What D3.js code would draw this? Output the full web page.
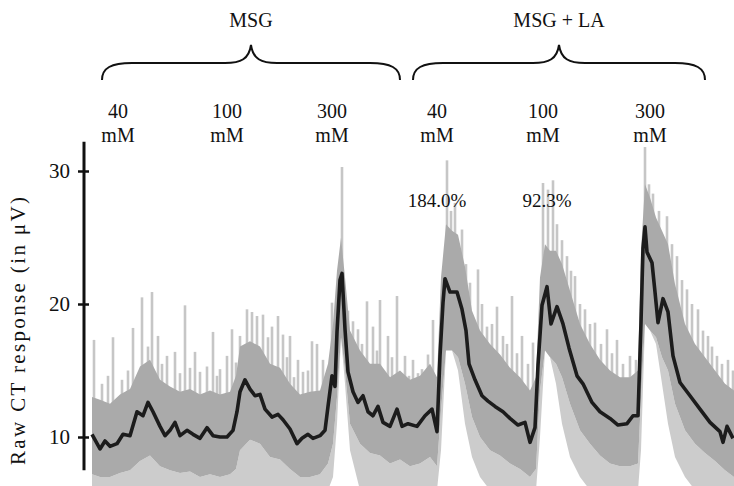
<!DOCTYPE html>
<html>
<head>
<meta charset="utf-8">
<script src="https://cdn.jsdelivr.net/npm/d3@7"></script>
<style>
  html, body { margin: 0; padding: 0; background: #fff; }
  svg { display: block; font-family: "Liberation Serif", "Times New Roman", serif; }
</style>
</head>
<body>
<svg id="chart" width="734" height="486"></svg>
<script>
// Chorda tympani (CT) nerve recording: MSG alone, then MSG + LA.
// Time is in seconds from the start of the trace; responses in microvolts.

// Stimulus groups and the concentrations applied within each
const groupNames = ["MSG", "MSG + LA"];
const groupStart = [5, 160.5];
const groupEnd = [154, 306.5];
const concLabels = ["40", "100", "300", "40", "100", "300"];
const concTime = [13, 67.5, 120, 172.5, 225.5, 279];
const percentLabels = ["184.0%", "92.3%"];
const percentTime = [172.5, 227.5];

// Y axis ticks
const yTicks = [10, 20, 30];

// Integrated (smoothed) response
const smoothTime = [0, 4, 6.5, 9, 12.5, 15.5, 19, 22.5, 25.5, 28, 30.5, 34, 36.5, 39, 41.5, 44, 47.5, 50.5, 54, 57.5,
  60.5, 64, 67.5, 70.5, 72.5, 74, 76.5, 79, 81.5, 84, 86.5, 90, 93, 95.5, 99, 102.5, 105, 108, 110.5, 114,
  116.5, 118, 120, 121.5, 122.5, 124, 125, 126.5, 128, 130.5, 133, 135.5, 138, 140.5, 143, 145.5, 149, 152.5, 155, 158,
  162.5, 166.5, 170, 172.5, 174, 175.5, 176.5, 179, 182.5, 185, 187, 188.5, 191.5, 195, 198, 201.5, 205.5, 209, 213, 216.5,
  219, 221.5, 223, 225, 227.5, 229.5, 232.5, 235.5, 238.5, 242.5, 245.5, 250, 254, 259, 263, 267.5, 270.5, 273, 274.5, 275.5,
  276.5, 277.5, 280, 281.5, 283, 285.5, 288, 290.5, 294, 299, 304, 309, 314, 315.5, 317.5, 320.5];
const smoothValue = [10.2, 9.1, 9.7, 9.3, 9.5, 10.2, 10.1, 11.9, 11.6, 12.6, 11.9, 10.8, 10.1, 10.5, 11.1, 10.1, 10.5, 10.2, 9.9, 10.7,
  10.1, 10.0, 10.0, 10.5, 11.9, 13.4, 14.3, 13.6, 13.1, 13.2, 12.1, 11.5, 11.7, 11.3, 10.6, 9.5, 9.9, 10.2, 9.9, 10.1,
  10.5, 12.3, 14.6, 13.8, 17.9, 21.8, 22.3, 18.1, 14.9, 13.4, 12.6, 13.1, 11.9, 11.6, 12.3, 11.1, 10.8, 12.1, 10.8, 11.0,
  10.8, 11.6, 12.1, 10.4, 16.1, 20.1, 21.9, 20.9, 20.9, 19.6, 18.0, 15.5, 14.3, 13.1, 12.7, 12.3, 11.9, 11.4, 10.9, 11.1,
  9.6, 10.7, 15.4, 19.9, 21.3, 18.5, 19.8, 18.5, 16.7, 14.6, 14.0, 12.6, 11.9, 11.4, 10.9, 11.0, 11.6, 11.6, 18.6, 24.2,
  25.8, 23.9, 23.1, 20.9, 18.6, 20.4, 19.4, 16.1, 14.1, 13.1, 12.1, 11.1, 10.4, 9.6, 10.8, 9.9];

// Raw trace: dense core band and the lower extent of its excursions
const envTime = [0, 4, 9, 14, 19, 24, 29, 34, 39, 44, 49, 54, 59, 64, 69, 72, 74, 79, 84, 89,
  94, 99, 104, 109, 114, 118, 120.5, 122.5, 124.5, 126.5, 129, 134, 139, 144, 149, 154, 159, 164, 169, 172.5,
  174.5, 177, 180, 183, 186.5, 190, 194, 199, 204, 209, 214, 219, 222, 224, 226.5, 229, 232, 235, 239, 244,
  249, 254, 259, 264, 269, 273, 274.5, 276.5, 279, 282, 285, 288, 291.5, 296.5, 301.5, 306.5, 311.5, 316.5, 321];
const bandUpper = [13.0, 12.8, 12.5, 13.2, 13.6, 15.3, 15.8, 14.3, 13.8, 13.4, 13.6, 13.2, 13.5, 13.2, 13.4, 14.6, 16.8, 17.2, 16.8, 15.5,
  15.2, 14.0, 13.2, 13.4, 13.5, 15.5, 18.5, 22.5, 25.0, 22.0, 18.0, 16.5, 15.5, 15.5, 14.5, 15.0, 14.3, 14.6, 15.5, 14.5,
  22.0, 26.0, 25.5, 25.2, 22.8, 19.5, 18.0, 17.0, 16.2, 15.2, 14.5, 13.5, 14.5, 22.0, 24.5, 24.0, 24.0, 23.0, 21.0, 18.5,
  17.0, 15.8, 15.0, 14.5, 14.5, 15.0, 24.0, 29.0, 28.0, 26.5, 25.5, 24.5, 21.5, 18.5, 17.0, 16.0, 15.0, 14.0, 13.5];
const bandLower = [7.2, 7.0, 7.0, 7.3, 7.5, 8.2, 8.6, 7.8, 7.5, 7.3, 7.4, 7.0, 7.2, 7.0, 7.2, 7.6, 9.0, 9.8, 9.5, 8.5,
  8.3, 7.6, 7.0, 7.0, 7.2, 8.0, 9.5, 13.0, 17.5, 15.0, 11.0, 9.5, 8.8, 8.6, 8.0, 8.3, 7.8, 8.0, 8.5, 7.8,
  12.0, 16.5, 16.5, 16.0, 14.0, 11.5, 10.0, 9.0, 8.6, 8.0, 7.6, 7.0, 7.6, 13.5, 16.5, 16.0, 15.5, 14.5, 12.5, 10.5,
  9.5, 8.6, 8.0, 7.8, 7.8, 8.0, 13.0, 18.5, 18.0, 17.5, 16.0, 15.0, 12.5, 10.5, 9.5, 8.8, 8.2, 7.5, 7.0];
const rawLow = [6.0, 6.0, 6.0, 6.0, 6.0, 6.0, 6.0, 6.0, 6.0, 6.0, 6.0, 6.0, 6.0, 6.0, 6.0, 6.0, 6.0, 6.0, 6.0, 6.0,
  6.0, 6.0, 6.0, 6.0, 6.0, 6.0, 7.0, 11.0, 17.5, 14.0, 9.0, 6.0, 6.0, 6.0, 6.0, 6.0, 6.0, 6.0, 6.0, 6.0,
  9.0, 16.5, 16.5, 15.0, 11.0, 8.5, 7.0, 6.0, 6.0, 6.0, 6.0, 6.0, 6.0, 10.0, 16.5, 16.0, 14.0, 11.0, 8.5, 7.0,
  6.0, 6.0, 6.0, 6.0, 6.0, 6.0, 9.0, 18.5, 18.0, 17.0, 14.0, 11.0, 8.5, 7.0, 6.0, 6.0, 6.0, 6.0, 6.0];

// Upward excursions of the raw trace (peak value of each spike)
const spikeTime = [1, 5, 8, 10.5, 15, 18, 20.5, 25, 28, 30, 33, 35, 37.5, 41.5, 44, 46.5, 49, 51.5, 54, 57.5,
  60.5, 62.5, 64, 67.5, 70, 72, 74, 77.5, 80, 82.5, 85.5, 88, 90, 93, 95.5, 97.5, 99, 101, 103, 105.5,
  108, 110, 112.5, 115.5, 120, 125, 128, 130.5, 133, 135, 137.5, 140.5, 142.5, 144, 148, 150, 152.5, 156.5, 158.5, 160.5,
  163, 165, 168, 170.5, 177.5, 179.5, 181.5, 185, 187, 189, 193, 195, 197.5, 200, 202.5, 205.5, 207.5, 210, 212.5, 215,
  218, 220.5, 225.5, 228, 230.5, 232.5, 235, 237.5, 239.5, 241.5, 244, 246.5, 249, 251.5, 254.5, 257.5, 260, 262.5, 265.5, 269,
  272, 276.5, 278.5, 280.5, 283.5, 287.5, 290, 292.5, 295, 297.5, 300, 303, 305.5, 308, 310, 312.5, 315, 318, 320.5];
const spikeTop = [17.3, 14.0, 14.6, 17.5, 14.3, 15.0, 18.2, 20.5, 16.8, 20.9, 17.6, 15.5, 16.1, 16.4, 14.8, 19.9, 15.2, 16.4, 14.9, 15.3,
  17.9, 14.6, 15.1, 16.1, 18.1, 15.6, 17.6, 19.6, 19.4, 19.1, 19.2, 17.5, 18.3, 19.1, 17.7, 16.0, 17.6, 14.5, 15.8, 14.9,
  15.0, 17.2, 17.0, 15.8, 20.1, 30.3, 19.5, 18.7, 18.1, 17.0, 20.2, 18.3, 16.5, 20.3, 17.6, 16.0, 20.6, 16.1, 14.6, 15.8,
  14.8, 15.1, 16.2, 18.8, 30.8, 27.0, 27.6, 25.6, 23.0, 21.6, 22.6, 20.0, 18.3, 18.5, 19.8, 17.6, 17.0, 20.6, 16.3, 17.6,
  15.5, 17.1, 29.1, 28.6, 29.3, 26.0, 24.8, 23.6, 22.5, 22.1, 20.0, 19.6, 18.5, 18.6, 17.0, 18.1, 16.3, 17.3, 15.5, 16.1,
  15.8, 31.8, 29.0, 28.3, 27.0, 26.6, 24.5, 23.6, 21.8, 21.1, 20.0, 19.6, 18.0, 17.6, 16.8, 16.1, 15.5, 15.8, 15.0];

const svg = d3.select("#chart");
const W = 734, H = 486;

const x = d3.scaleLinear().domain([0, 321]).range([92, 734]);
const y = d3.scaleLinear().domain([10, 30]).range([437, 171]);

// Clip the traces to the plotting area
svg.append("defs").append("clipPath").attr("id", "plotClip")
  .append("rect").attr("x", 86).attr("y", 0).attr("width", W - 86).attr("height", H);

const plot = svg.append("g").attr("clip-path", "url(#plotClip)");

const env = envTime.map((t, i) => ({ t, hi: bandUpper[i], lo: bandLower[i], low: rawLow[i] }));

// Lower extent of the raw excursions
plot.append("path")
  .datum(env)
  .attr("fill", "#cccccc")
  .attr("d", d3.area().x(d => x(d.t)).y0(d => y(d.low)).y1(d => y(d.lo)));

// Band centre, used as the foot of each spike
const bisect = d3.bisector(d => d.t).left;
function bandMid(t) {
  const i = Math.max(1, Math.min(env.length - 1, bisect(env, t)));
  const a = env[i - 1], b = env[i];
  const f = (t - a.t) / (b.t - a.t);
  const mA = (a.hi + a.lo) / 2, mB = (b.hi + b.lo) / 2;
  return mA + (mB - mA) * f;
}

// Raw spikes
plot.append("g").selectAll("line")
  .data(spikeTime.map((t, i) => ({ t, top: spikeTop[i] })))
  .join("line")
  .attr("x1", d => x(d.t)).attr("x2", d => x(d.t))
  .attr("y1", d => y(d.top)).attr("y2", d => y(bandMid(d.t)))
  .attr("stroke", "#c6c6c6")
  .attr("stroke-width", 2.6);

// Dense core of the raw trace
plot.append("path")
  .datum(env)
  .attr("fill", "#aaaaaa")
  .attr("d", d3.area().x(d => x(d.t)).y0(d => y(d.lo)).y1(d => y(d.hi)));

// Smoothed response
plot.append("path")
  .datum(smoothTime.map((t, i) => ({ t, v: smoothValue[i] })))
  .attr("fill", "none")
  .attr("stroke", "#1c1c1c")
  .attr("stroke-width", 3.6)
  .attr("stroke-linejoin", "round")
  .attr("d", d3.line().x(d => x(d.t)).y(d => y(d.v)));

// Y axis
const axisG = svg.append("g")
  .attr("transform", "translate(84,0)")
  .call(d3.axisLeft(y).tickValues(yTicks).tickSizeInner(6).tickSizeOuter(0).tickPadding(8));
axisG.select(".domain").remove();
axisG.append("line")
  .attr("x1", 0).attr("x2", 0)
  .attr("y1", y(32.2)).attr("y2", y(7.5))
  .attr("stroke", "#111").attr("stroke-width", 3);
axisG.selectAll(".tick line")
  .attr("x1", 5).attr("x2", -6)
  .attr("stroke", "#111").attr("stroke-width", 2.5);
axisG.selectAll(".tick text")
  .attr("font-family", "Liberation Serif, serif")
  .attr("font-size", 21)
  .attr("fill", "#111");

svg.append("text")
  .attr("transform", "translate(25,331) rotate(-90)")
  .attr("text-anchor", "middle")
  .attr("font-size", 21)
  .attr("fill", "#111")
  .attr("textLength", 268)
  .attr("lengthAdjust", "spacing")
  .text("Raw CT response (in \u03BCV)");

// Group braces and names
function bracePath(x0, x1, yEnd, yBar, yTip) {
  const xm = (x0 + x1) / 2;
  return `M${x0},${yEnd} C${x0},${yBar + 5} ${x0 + 9},${yBar} ${x0 + 30},${yBar}` +
    ` L${xm - 26},${yBar} C${xm - 10},${yBar} ${xm - 2},${yBar - 4} ${xm},${yTip}` +
    ` C${xm + 2},${yBar - 4} ${xm + 10},${yBar} ${xm + 26},${yBar}` +
    ` L${x1 - 30},${yBar} C${x1 - 9},${yBar} ${x1},${yBar + 5} ${x1},${yEnd}`;
}

groupNames.forEach((name, i) => {
  const x0 = x(groupStart[i]), x1 = x(groupEnd[i]);
  svg.append("path")
    .attr("d", bracePath(x0, x1, 80, 63, 45))
    .attr("fill", "none")
    .attr("stroke", "#111")
    .attr("stroke-width", 2);
  svg.append("text")
    .attr("x", (x0 + x1) / 2).attr("y", 27)
    .attr("text-anchor", "middle")
    .attr("font-size", 20)
    .attr("fill", "#111")
    .text(name);
});

// Concentration labels
concLabels.forEach((c, i) => {
  const g = svg.append("text")
    .attr("text-anchor", "middle")
    .attr("font-size", 20)
    .attr("fill", "#111");
  g.append("tspan").attr("x", x(concTime[i])).attr("y", 118).text(c);
  g.append("tspan").attr("x", x(concTime[i])).attr("y", 142).text("mM");
});

// Percent change labels
percentLabels.forEach((p, i) => {
  svg.append("text")
    .attr("x", x(percentTime[i])).attr("y", 207)
    .attr("text-anchor", "middle")
    .attr("font-size", 19)
    .attr("fill", "#111")
    .text(p);
});
</script>
</body>
</html>
